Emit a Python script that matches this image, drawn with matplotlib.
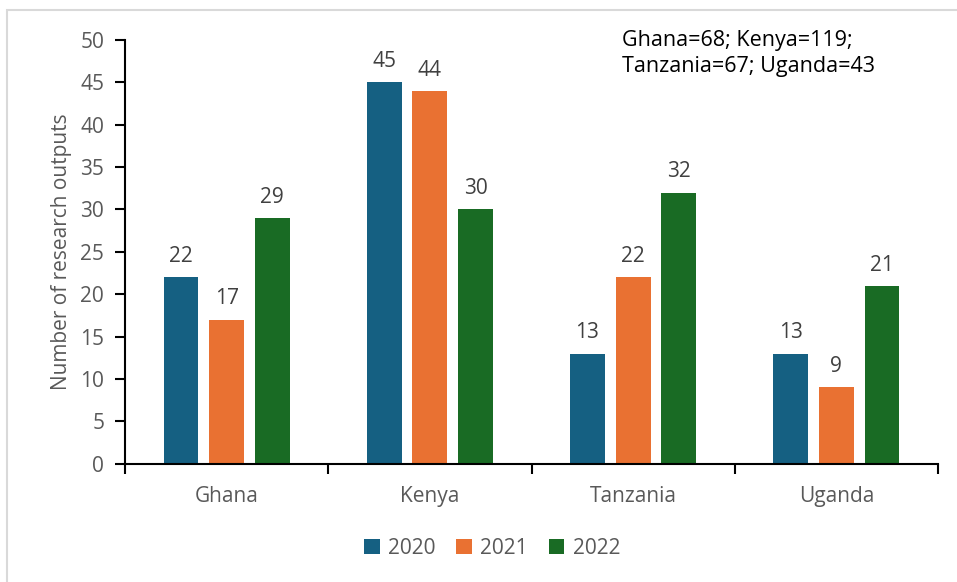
import matplotlib
matplotlib.use("Agg")
import matplotlib.pyplot as plt
import numpy as np
from matplotlib.patches import Rectangle

plt.rcParams['font.family'] = ['Open Sans', 'DejaVu Sans']

countries = ["Ghana", "Kenya", "Tanzania", "Uganda"]
years = ["2020", "2021", "2022"]
outputs_2020 = [22, 45, 13, 13]
outputs_2021 = [17, 44, 22, 9]
outputs_2022 = [29, 30, 32, 21]
colors = ["#156082", "#E97132", "#196B24"]
totals_note = "Ghana=68; Kenya=119;\nTanzania=67; Uganda=43"

fig = plt.figure(figsize=(9.57, 5.82), dpi=100)
ax = fig.add_axes([125 / 957, 1 - 463.7 / 582, (938 - 125) / 957, (463.7 - 40) / 582])

# light frame around the chart area
fig.patches.append(Rectangle((7 / 957, -0.05), 1.2, 1 - 10 / 582 + 0.05,
                             transform=fig.transFigure, fill=False,
                             edgecolor="#D9D9D9", linewidth=1.5))

x = np.arange(len(countries))
width = 0.172
step = 0.2245
series = [outputs_2020, outputs_2021, outputs_2022]
for i, (vals, col, yr) in enumerate(zip(series, colors, years)):
    pos = x + (i - 1) * step
    bars = ax.bar(pos, vals, width=width, color=col, label=yr, zorder=2)
    for b, v in zip(bars, vals):
        ax.text(b.get_x() + b.get_width() / 2, v + 1.2, str(v),
                ha="center", va="bottom", fontsize=15, color="#404040")

ax.set_xlim(-0.5, len(countries) - 0.5)
ax.set_ylim(0, 50)
ax.set_yticks(np.arange(0, 51, 5))
ax.set_xticks(x)
ax.set_xticklabels(countries)
ax.set_xticks(np.arange(-0.5, len(countries)), minor=True)
ax.tick_params(axis="x", which="major", length=0, pad=16, labelsize=15, labelcolor="#595959")
ax.tick_params(axis="x", which="minor", length=7, width=1.5, direction="out", color="black")
ax.tick_params(axis="y", length=7, width=1.5, direction="out", pad=8,
               labelsize=15, labelcolor="#595959", color="black")

for s in ["top", "right"]:
    ax.spines[s].set_visible(False)
for s in ["left", "bottom"]:
    ax.spines[s].set_linewidth(1.5)
    ax.spines[s].set_color("black")

ax.set_ylabel("Number of research outputs", fontsize=15, color="#595959", labelpad=6)

ax.text(622 / 957, 1 - 30 / 582, totals_note, transform=fig.transFigure,
        ha="left", va="top", fontsize=15.5, color="black", linespacing=1.3)

fig.legend(loc="center", bbox_to_anchor=(492 / 957, 1 - 548 / 582), ncol=3,
           frameon=False, fontsize=15, handlelength=0.75, handleheight=0.75,
           handletextpad=0.4, columnspacing=1.0, labelcolor="#595959")

fig.savefig("out.png", dpi=100)
